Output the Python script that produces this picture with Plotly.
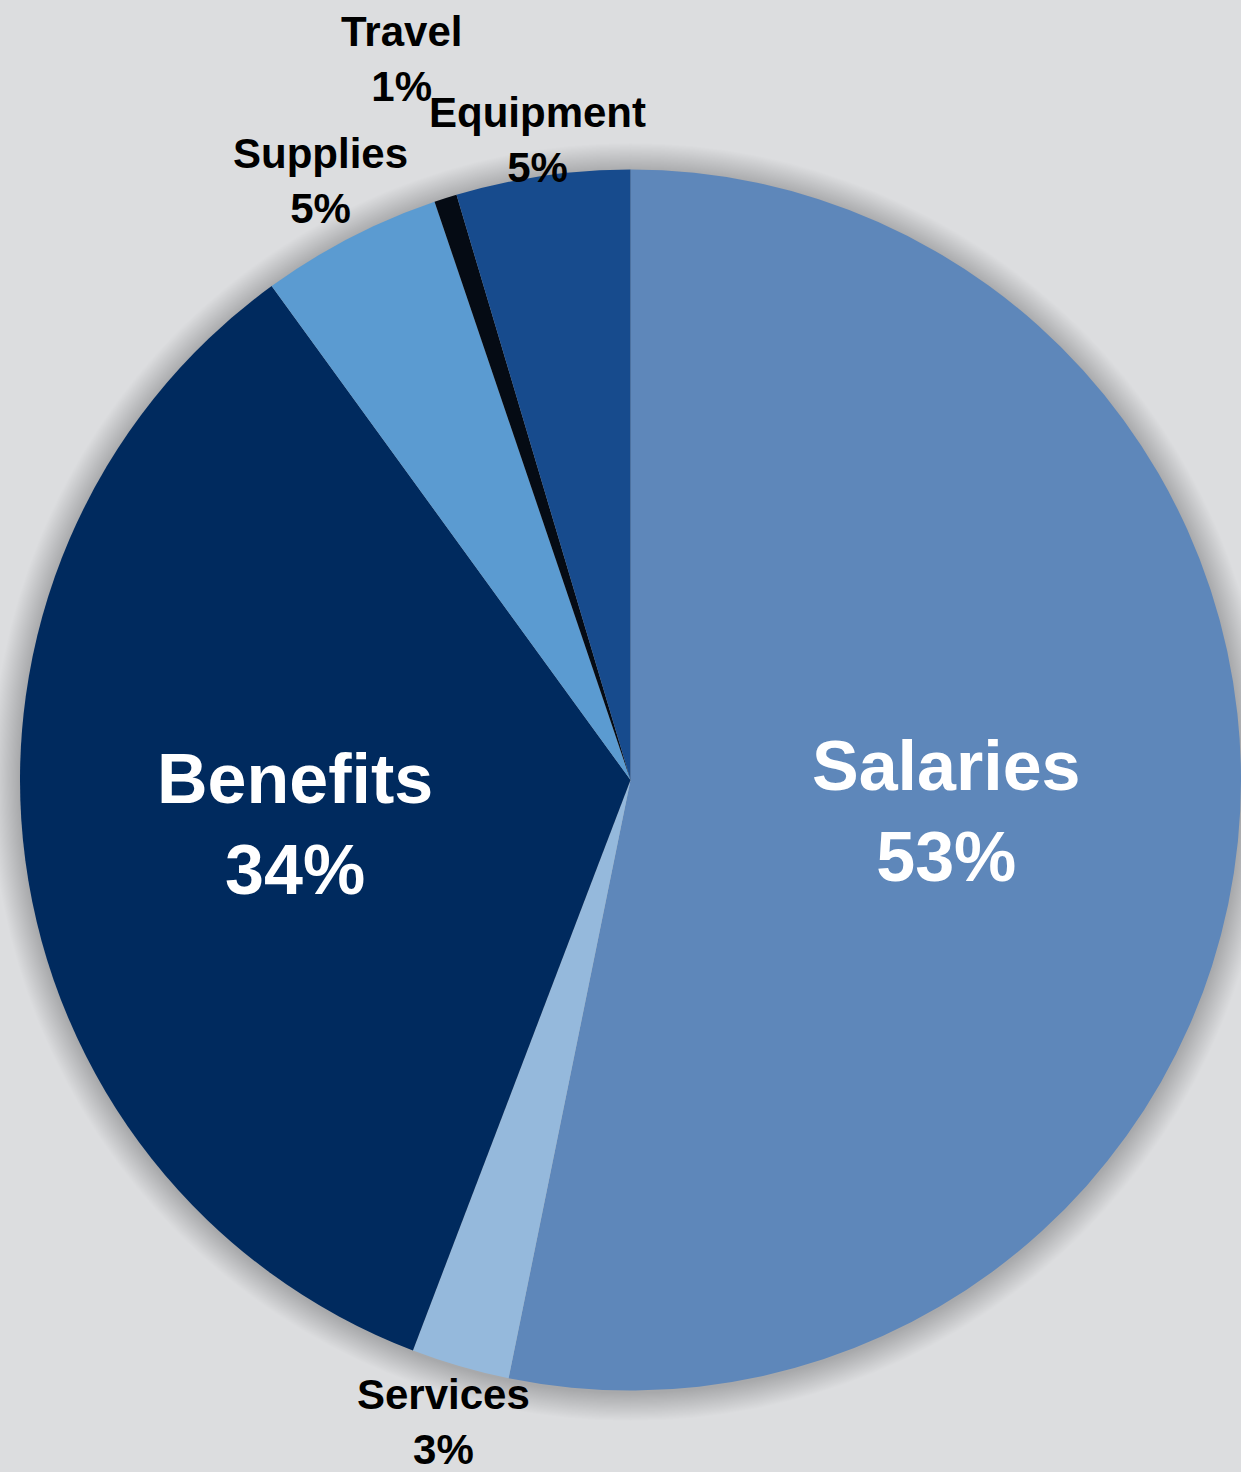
import math
import plotly.graph_objects as go

# Budget breakdown by category (share of total, %)
categories = ["Salaries", "Services", "Benefits", "Supplies", "Travel", "Equipment"]
shares = [53.2, 2.6, 34.2, 4.8, 0.6, 4.6]

# Styling per slice
slice_colors = ["#5E87BA", "#95B9DC", "#002A5E", "#5B9BD1", "#050B14", "#174B8D"]
label_colors = ["white", "black", "white", "black", "black", "black"]
label_sizes = [70, 42, 70, 42, 42, 42]
# Distance of each label centre from the pie centre, as a multiple of the radius
label_radius = [0.52, 1.095, 0.555, 1.105, 1.24, 1.06]

W, H = 1241, 1472
BG = "#DCDDDF"
FONT = "Liberation Sans, Arial, Helvetica, sans-serif"

# Pie box in pixels (left, right, top, bottom)
box_l, box_r, box_t, box_b = 20, W, 167, 1393
dom_x = [box_l / W, box_r / W]
dom_y = [1 - box_b / H, 1 - box_t / H]

# Geometry of the drawn pie (plotly fits the circle in the smaller side)
cx = (box_l + box_r) / 2
cy = (box_t + box_b) / 2
R = min(box_r - box_l, box_b - box_t) / 2

fig = go.Figure(
    go.Pie(
        labels=categories,
        values=shares,
        sort=False,
        direction="clockwise",
        rotation=0,
        marker=dict(colors=slice_colors, line=dict(width=0)),
        textinfo="none",
        showlegend=False,
        hoverinfo="label+percent",
        domain=dict(x=dom_x, y=dom_y),
    )
)

# Soft drop shadow: stacked translucent discs fading outward
shapes = []
n_rings = 26
for i in range(n_rings, 0, -1):
    r = R + i * 1.1
    shapes.append(
        dict(
            type="circle",
            xref="paper",
            yref="paper",
            x0=(cx - r) / W,
            x1=(cx + r) / W,
            y0=1 - (cy + 2 + r) / H,
            y1=1 - (cy + 2 - r) / H,
            fillcolor="black",
            opacity=0.009,
            line=dict(width=0),
            layer="below",
        )
    )

# Category labels with rounded percentages, placed at each slice's mid-angle
total = sum(shares)
annotations = []
cum = 0.0
for name, val, col, size, rad in zip(categories, shares, label_colors, label_sizes, label_radius):
    mid = (cum + val / 2) / total * 2 * math.pi
    cum += val
    d = rad * R
    px = cx + d * math.sin(mid)
    py = cy - d * math.cos(mid)
    pct = round(val / total * 100)
    annotations.append(
        dict(
            x=px / W,
            y=1 - py / H,
            xref="paper",
            yref="paper",
            text=f"<b>{name}</b><br><b>{pct}%</b>",
            showarrow=False,
            xanchor="center",
            yanchor="middle",
            align="center",
            font=dict(family=FONT, size=size, color=col),
        )
    )

fig.update_layout(
    width=W,
    height=H,
    margin=dict(l=0, r=0, t=0, b=0),
    paper_bgcolor=BG,
    plot_bgcolor=BG,
    shapes=shapes,
    annotations=annotations,
)

fig.write_html("out.html")
